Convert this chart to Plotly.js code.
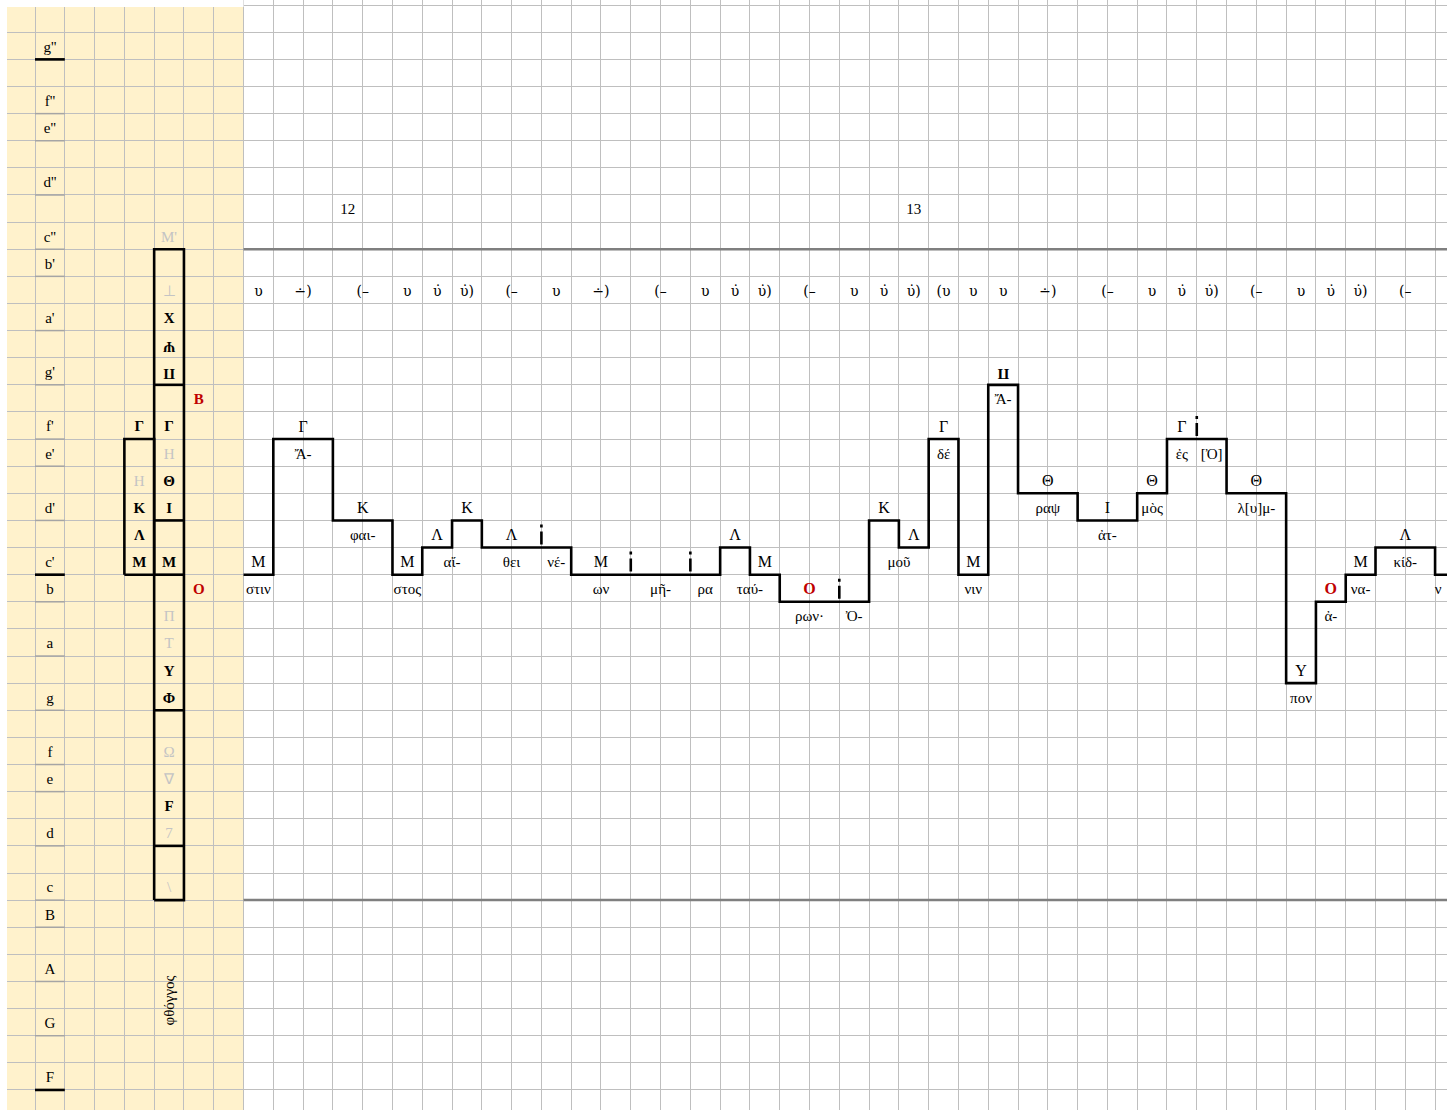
<!DOCTYPE html>
<html>
<head>
<meta charset="utf-8">
<script src="https://cdn.plot.ly/plotly-3.0.1.min.js"></script>
<style>html,body{margin:0;padding:0;background:#fff;}#chart{width:1447px;height:1110px;}</style>
</head>
<body>
<div id="chart"></div>
<script>
// ---------- DATA ----------
// pitch rows (semitone index, F = 0)
const pitchLabels = ["g''","f''","e''","d''","c''","b'","a'","g'","f'","e'","d'","c'","b","a","g","f","e","d","c","B","A","G","F"];
const pitchRows   = [38,36,35,33,31,30,28,26,24,23,21,19,18,16,14,12,11,9,7,6,4,2,0];
const labelRules  = [37.5, 18.5, -0.5];          // thick rules under g'', c', F

// melody (step line): column where each note starts and its pitch row
const noteStart = [7,8,10,12,13,14,15,18,23,24,25,28,29,30,31,32,33,35,37,38,40,42,43,44,45,47,48];
const notePitch = [19,24,21,19,20,21,20,19,20,19,18,21,20,24,19,26,22,21,22,24,22,15,18,19,20,19,19];

// note signs above the line
const signText  = ["Μ","Γ","Κ","Μ","Λ","Κ","Λ","Μ","Λ","Μ","Κ","Λ","Γ","Μ","Θ","Ι","Θ","Γ","Θ","Υ","Μ","Λ"];
const signX     = [7.5,9,11,12.5,13.5,14.5,16,19,23.5,24.5,28.5,29.5,30.5,31.5,34,36,37.5,38.5,41,42.5,44.5,46];
const signPitch = [19,24,21,19,20,21,20,19,20,19,21,20,24,19,22,21,22,24,22,15,19,20];
const redSignText  = ["Ο","Ο"];
const redSignX     = [26,43.5];
const redSignPitch = [18,18];
const turnedSignText  = ["Π"];
const turnedSignX     = [32.5];
const turnedSignPitch = [26];

// syllables
const sylText  = ["στιν","Ἄ-","φαι-","στος","αἴ-","θει","νέ-","ων","μῆ-","ρα","ταύ-","ρων·","Ὀ-","μοῦ","δέ","νιν","Ἄ-","ραψ","ἀτ-","μὸς","ἐς","[Ὀ]","λ[υ]μ-","πον","ἀ-","να-","κίδ-","ν"];
const sylX     = [7.5,9,11,12.5,14,16,17.5,19,21,22.5,24,26,27.5,29,30.5,31.5,32.5,34,36,37.5,38.5,39.5,41,42.5,43.5,44.5,46,47.1];
const sylPitch = [18,23,20,18,19,19,19,18,18,18,18,17,17,19,23,18,25,21,20,21,23,23,21,14,17,18,19,18];

// separators (dotted cell borders)
const sepX     = [17,20,22,27,39];
const sepPitch = [20,19,19,18,24];

// metre row
const meterText = ["υ","∸)","(–","υ","υ̇","υ̇)","(–","υ","∸)","(–","υ","υ̇","υ̇)","(–","υ","υ̇","υ̇)","(υ","υ","υ","∸)","(–","υ","υ̇","υ̇)","(–","υ","υ̇","υ̇)","(–"];
const meterX    = [7.5,9,11,12.5,13.5,14.5,16,17.5,19,21,22.5,23.5,24.5,26,27.5,28.5,29.5,30.5,31.5,32.5,34,36,37.5,38.5,39.5,41,42.5,43.5,44.5,46];
const meterPitch = 29;

// bar numbers
const barText = ["12","13"];
const barX    = [10.5,29.5];
const barPitch = 32;

// staff limits (grey rules)
const staffRules = [30.5, 6.5];

// left key panel
const keyBoldText  = ["Γ","Κ","Λ","Μ","Χ","Γ","Θ","Ι","Μ","Υ","Φ","F"];
const keyBoldX     = [3.5,3.5,3.5,3.5,4.5,4.5,4.5,4.5,4.5,4.5,4.5,4.5];
const keyBoldPitch = [24,21,20,19,28,24,22,21,19,15,14,10];
const keyGreyText  = ["Η","Μ'","⊥","Η","Π","Τ","Ω","∇","7","\\"];
const keyGreyX     = [3.5,4.5,4.5,4.5,4.5,4.5,4.5,4.5,4.5,4.5];
const keyGreyPitch = [22,31,29,23,17,16,12,11,9,7];
const keyTurnText  = ["Ψ","Π"];
const keyTurnX     = [4.5,4.5];
const keyTurnPitch = [27,26];
const keyRedText   = ["Β","Ο"];
const keyRedX      = [5.5,5.5];
const keyRedPitch  = [25,18];
const boxCol = [3,4];
const boxLo  = [18.5,6.5];
const boxHi  = [23.5,30.5];
const boxDividers = [25.5,20.5,18.5,13.5,8.5];
const panelWord = "φθόγγος";

// ---------- BUILD ----------
const SERIF = "Liberation Serif, Times New Roman, serif";
const DY = -0.08;   // small visual baseline correction for text
const traces = [];
function textTrace(x, y, t, font) {
  return {type:'scatter', mode:'text', x:x, y:y.map(v => v + DY), text:t, textposition:'middle center',
          textfont:font, hoverinfo:'skip', cliponaxis:true, showlegend:false};
}

// melody step line
traces.push({type:'scatter', mode:'lines', x:noteStart, y:notePitch.map(p => p - 0.5),
  line:{shape:'hv', color:'#000', width:2.6}, hoverinfo:'skip', cliponaxis:true});

// separators
const sx = [], sy = [];
sepX.forEach((x,i) => { sx.push(x, x, null); sy.push(sepPitch[i] + 0.5, sepPitch[i] - 0.5, null); });
traces.push({type:'scatter', mode:'lines', x:sx, y:sy, connectgaps:false,
  line:{color:'#000', width:2.6, dash:'0px,4px,3px,4px,13px,3px'}, hoverinfo:'skip'});

// staff rules
const rx = [], ry = [];
staffRules.forEach(p => { rx.push(7, 48, null); ry.push(p, p, null); });
traces.push({type:'scatter', mode:'lines', x:rx, y:ry, line:{color:'#7F7F7F', width:2.5}, hoverinfo:'skip'});

// label rules (grey cell borders + thick black)
const lgx = [], lgy = [];
pitchRows.forEach(p => { lgx.push(0, 1, null); lgy.push(p - 0.5, p - 0.5, null); });
traces.push({type:'scatter', mode:'lines', x:lgx, y:lgy, line:{color:'#A5A5A5', width:1.5}, hoverinfo:'skip'});
const lbx = [], lby = [];
labelRules.forEach(p => { lbx.push(0, 1, null); lby.push(p, p, null); });
traces.push({type:'scatter', mode:'lines', x:lbx, y:lby, line:{color:'#000', width:2.6}, hoverinfo:'skip'});

// key boxes
const bx = [], by = [];
boxCol.forEach((c,i) => {
  bx.push(c, c+1, c+1, c, c, null);
  by.push(boxLo[i], boxLo[i], boxHi[i], boxHi[i], boxLo[i], null);
});
boxDividers.forEach(p => { bx.push(4, 5, null); by.push(p, p, null); });
traces.push({type:'scatter', mode:'lines', x:bx, y:by, line:{color:'#000', width:2.6}, hoverinfo:'skip'});

// texts
traces.push(textTrace(pitchLabels.map(() => 0.5), pitchRows, pitchLabels, {family:SERIF, size:15, color:'#000'}));
traces.push(textTrace(signX, signPitch, signText, {family:SERIF, size:16, color:'#000'}));
traces.push(textTrace(redSignX, redSignPitch, redSignText, {family:SERIF, size:16, color:'#C00000', weight:'bold'}));
traces.push(textTrace(sylX, sylPitch, sylText, {family:SERIF, size:15, color:'#000'}));
traces.push(textTrace(meterX, meterX.map(() => meterPitch), meterText, {family:"DejaVu Serif, Liberation Serif, serif", size:14, color:'#000'}));
traces.push(textTrace(barX, barX.map(() => barPitch), barText, {family:SERIF, size:15, color:'#000'}));
traces.push(textTrace(keyBoldX, keyBoldPitch, keyBoldText, {family:SERIF, size:15, color:'#000', weight:'bold'}));
traces.push(textTrace(keyGreyX, keyGreyPitch, keyGreyText, {family:SERIF, size:15, color:'#C4C4C4'}));
traces.push(textTrace(keyRedX, keyRedPitch, keyRedText, {family:SERIF, size:15, color:'#C00000', weight:'bold'}));

const annotations = [];
keyTurnText.forEach((t,i) => annotations.push({x:keyTurnX[i], y:keyTurnPitch[i] + DY, xref:'x', yref:'y', text:t,
  showarrow:false, textangle:180, font:{family:SERIF, size:15, color:'#000', weight:'bold'}}));
turnedSignText.forEach((t,i) => annotations.push({x:turnedSignX[i], y:turnedSignPitch[i] + DY, xref:'x', yref:'y', text:t,
  showarrow:false, textangle:180, font:{family:SERIF, size:15, color:'#000', weight:'bold'}}));
annotations.push({x:4.5, y:2.8, xref:'x', yref:'y', text:panelWord, showarrow:false, textangle:-90,
  font:{family:SERIF, size:15, color:'#000'}});

const XR = [-1.175, 47.40];
const YR = [-1.239, 39.69];
const layout = {
  width:1447, height:1110, margin:{l:0, r:0, t:0, b:0, pad:0},
  paper_bgcolor:'#FFFFFF', plot_bgcolor:'#FFFFFF', showlegend:false,
  xaxis:{range:XR, tickmode:'linear', tick0:0, dtick:1, showgrid:true, gridcolor:'#BFBFBF', gridwidth:1,
         zeroline:false, showticklabels:false, ticks:'', showline:false, fixedrange:true},
  yaxis:{range:YR, tickmode:'linear', tick0:0.5, dtick:1, showgrid:true, gridcolor:'#BFBFBF', gridwidth:1,
         zeroline:false, showticklabels:false, ticks:'', showline:false, fixedrange:true},
  shapes:[
    {type:'rect', xref:'x', yref:'paper', x0:XR[0], x1:7, y0:0, y1:1, layer:'below',
     fillcolor:'#FFF2CC', line:{width:0}},
    {type:'rect', xref:'paper', yref:'paper', x0:0, x1:7/1447, y0:0, y1:1, layer:'above',
     fillcolor:'#FFFFFF', line:{width:0}},
    {type:'rect', xref:'x', yref:'paper', x0:XR[0], x1:7, y0:1 - 7/1110, y1:1, layer:'above',
     fillcolor:'#FFFFFF', line:{width:0}}
  ],
  annotations:annotations
};
Plotly.newPlot('chart', traces, layout, {staticPlot:true, displayModeBar:false});
</script>
</body>
</html>
